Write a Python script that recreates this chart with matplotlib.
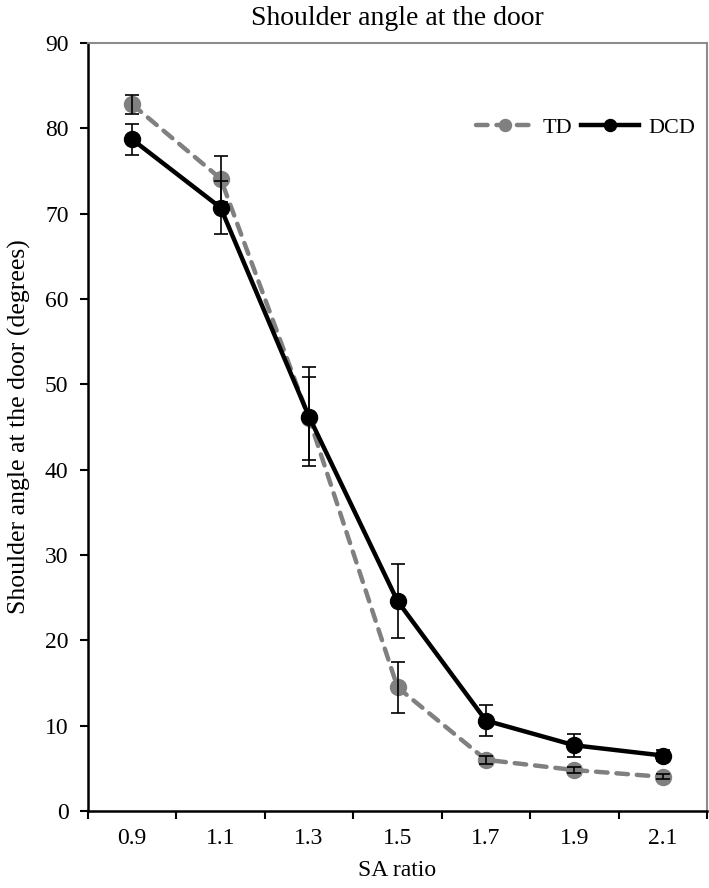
import matplotlib
matplotlib.use("Agg")
import matplotlib.pyplot as plt
import numpy as np

categories = ["0.9", "1.1", "1.3", "1.5", "1.7", "1.9", "2.1"]
td_values = [82.8, 74.1, 46.0, 14.5, 6.0, 4.8, 4.0]
td_errors = [1.1, 2.7, 4.9, 3.0, 0.5, 0.4, 0.3]
dcd_values = [78.7, 70.7, 46.2, 24.6, 10.6, 7.7, 6.5]
dcd_errors = [1.85, 3.1, 5.8, 4.3, 1.8, 1.35, 0.6]
y_ticks = [0, 10, 20, 30, 40, 50, 60, 70, 80, 90]

plt.rcParams['font.family'] = ['Liberation Serif', 'DejaVu Serif']

fig = plt.figure(figsize=(7.09, 8.88), dpi=100)
ax = fig.add_axes([88/709, 77/888, (707-88)/709, (811-43)/888])

x = np.arange(len(categories))

ax.plot(x, td_values, color='#808080', lw=3.2, ls='--', dashes=(2.6, 2.0),
        dash_capstyle='round', marker='o', ms=11.5, mec='#808080', mfc='#808080',
        label='TD', zorder=3)
ax.plot(x, dcd_values, color='black', lw=3.2, marker='o', ms=11.5,
        label='DCD', zorder=4)
ax.errorbar(x, td_values, yerr=td_errors, fmt='none', ecolor='black', elinewidth=1.2,
            capsize=5, capthick=1.2, zorder=5)
ax.errorbar(x, dcd_values, yerr=dcd_errors, fmt='none', ecolor='black', elinewidth=1.2,
            capsize=5, capthick=1.2, zorder=5)

ax.set_xlim(-0.5, len(categories) - 0.5)
ax.set_ylim(0, 90)
ax.set_yticks(y_ticks)
ax.set_yticklabels([str(v) for v in y_ticks], fontsize=17)
ax.set_xticks(x)
ax.set_xticklabels(categories, fontsize=17)
ax.tick_params(axis='x', length=0, pad=12)
ax.set_xticks(np.arange(-0.5, len(categories)), minor=True)
ax.tick_params(axis='x', which='minor', length=6, width=1.5, direction='out')
ax.tick_params(axis='y', length=6, width=1.5, direction='out', pad=8)

for s in ['left', 'bottom']:
    ax.spines[s].set_linewidth(1.8)
    ax.spines[s].set_color('black')
for s in ['top', 'right']:
    ax.spines[s].set_linewidth(1.5)
    ax.spines[s].set_color('#8c8c8c')

ax.set_xlabel('SA ratio', fontsize=17, labelpad=8)
ax.set_ylabel('Shoulder angle at the door (degrees)', fontsize=18.5, labelpad=10)
ax.set_title('Shoulder angle at the door', fontsize=20, pad=13)

ax.legend(loc='upper right', bbox_to_anchor=(0.995, 0.915), ncol=2, frameon=False,
          fontsize=16, handlelength=2.6, columnspacing=0.4, handletextpad=0.4,
          borderaxespad=0, markerscale=0.75)

fig.savefig('out.png', dpi=100)
